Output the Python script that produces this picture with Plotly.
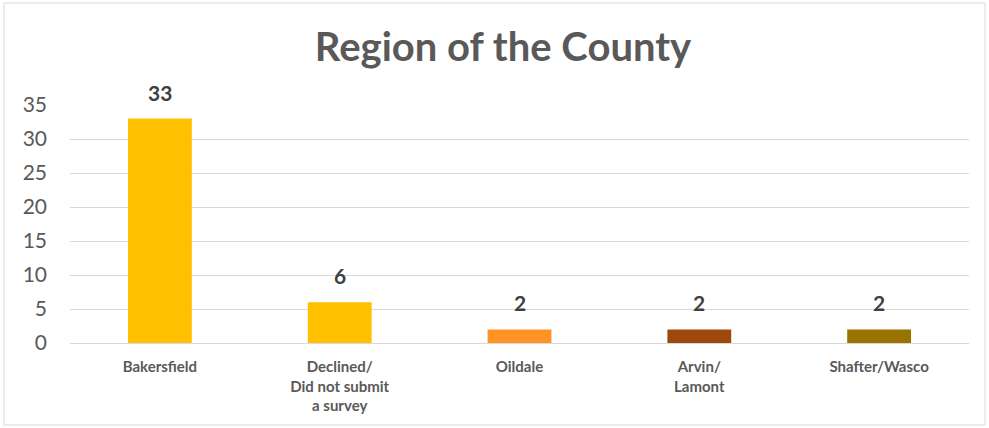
import plotly.graph_objects as go

categories = ["Bakersfield", "Declined/<br>Did not submit<br>a survey", "Oildale", "Arvin/<br>Lamont", "Shafter/Wasco"]
counts = [33, 6, 2, 2, 2]
bar_colors = ["#FFC000", "#FFC000", "#FF9326", "#9E480E", "#997300"]
y_ticks = [0, 5, 10, 15, 20, 25, 30, 35]

W, H = 989, 428
ML, MR, MT, MB = 70, 20, 105, 85
pw, ph = W - ML - MR, H - MT - MB

fig = go.Figure(go.Bar(
    x=categories,
    y=counts,
    marker=dict(color=bar_colors, line=dict(width=0)),
    cliponaxis=False,
    hoverinfo="x+y",
))

# value labels above each bar
for cat, val in zip(categories, counts):
    fig.add_annotation(
        x=cat, y=val, xref="x", yref="y",
        text=f"<b>{val}</b>", showarrow=False,
        yanchor="bottom", yshift=12,
        font=dict(family="Lato", size=21, color="#404040"),
    )

def px_to_paper_x(px):
    return (px - ML) / pw

def px_to_paper_y(py):
    return (H - MB - py) / ph

fig.add_shape(
    type="rect", xref="paper", yref="paper",
    x0=px_to_paper_x(4), x1=px_to_paper_x(985),
    y0=px_to_paper_y(425), y1=px_to_paper_y(3),
    line=dict(color="#D9D9D9", width=1), fillcolor="rgba(0,0,0,0)", layer="below",
)

fig.update_layout(
    width=W, height=H,
    margin=dict(l=ML, r=MR, t=MT, b=MB),
    paper_bgcolor="white", plot_bgcolor="white",
    bargap=0.645,
    showlegend=False,
    title=dict(
        text="<b>Region of the County</b>",
        x=503 / W, xanchor="center", xref="container",
        y=1 - 47 / H, yanchor="middle",
        font=dict(family="Lato", size=40, color="#595959"),
    ),
    xaxis=dict(
        showgrid=False, showline=True, linecolor="#D9D9D9", linewidth=1,
        ticks="", tickfont=dict(family="Lato", size=15, color="#595959", weight="bold"),
        ticklabelstandoff=10,
    ),
    yaxis=dict(
        range=[0, 35], tickvals=y_ticks, showgrid=True, gridcolor="#D9D9D9", gridwidth=1,
        zeroline=False, showline=False, ticks="",
        tickfont=dict(family="Lato", size=21, color="#595959"),
        ticklabelstandoff=22,
    ),
)

fig.write_html("out.html")
